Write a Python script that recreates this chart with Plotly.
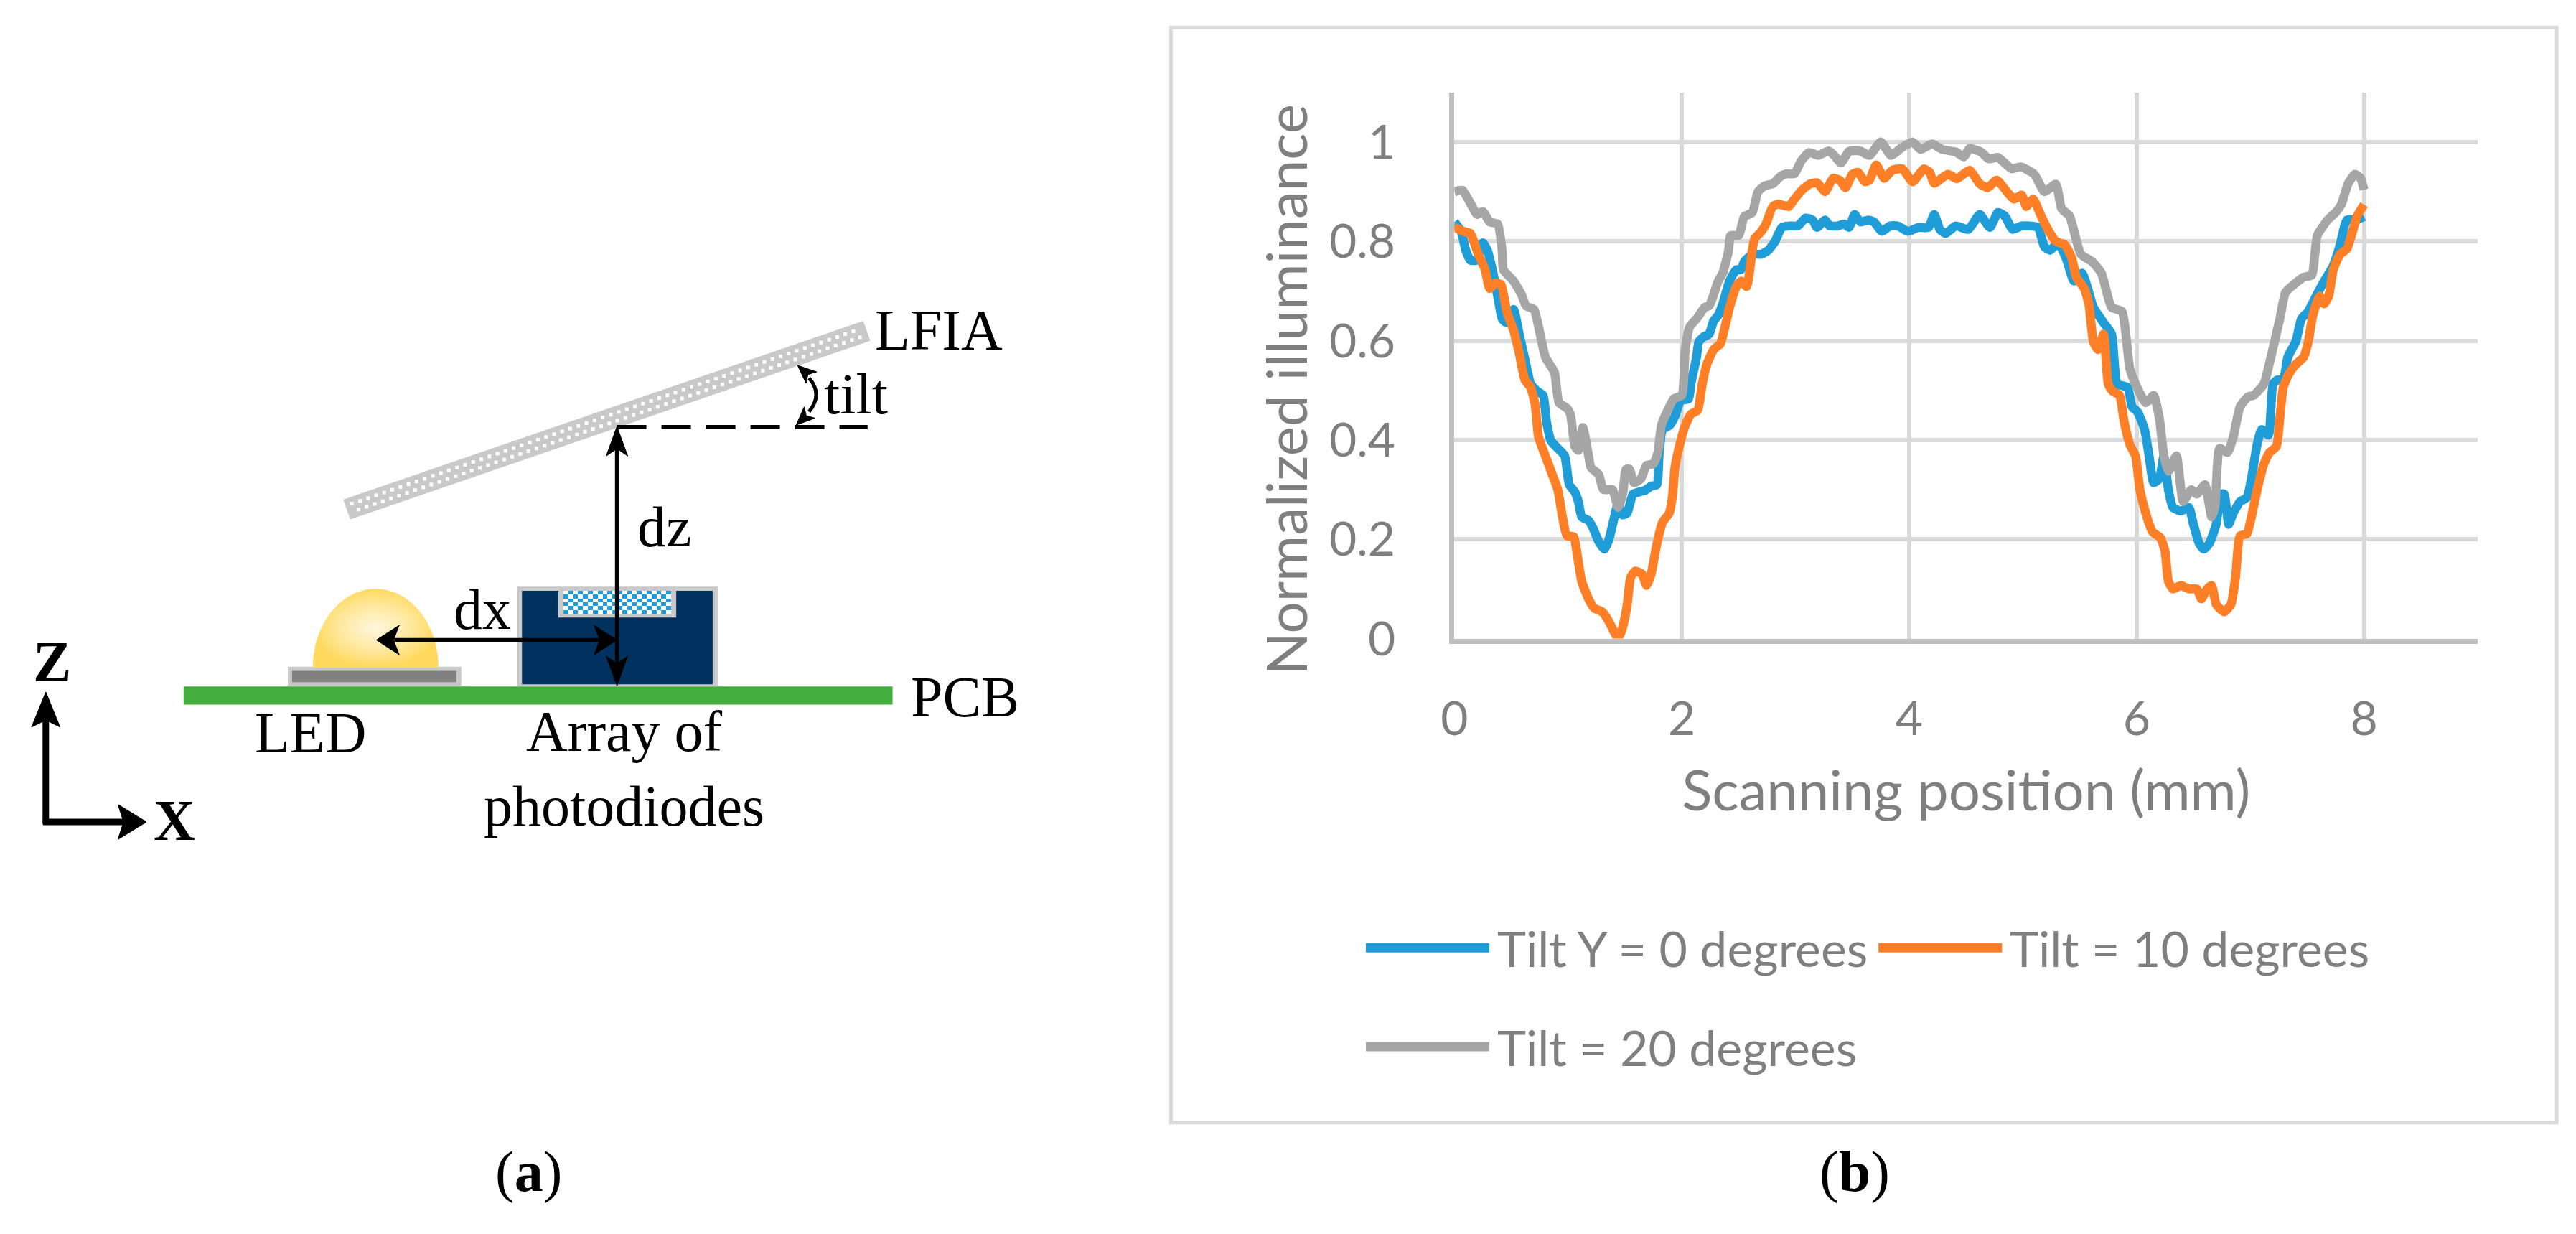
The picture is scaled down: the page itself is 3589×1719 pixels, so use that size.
import numpy as np
import plotly.graph_objects as go

W, H = 3589, 1719

# ---------------- data ----------------
series_names = ["Tilt Y = 0 degrees", "Tilt = 10 degrees", "Tilt = 20 degrees"]
series_colors = ["#1f9dd9", "#ff7f27", "#a6a6a6"]

x_tilt0 = [0, 0.06, 0.10, 0.14, 0.20, 0.25, 0.29, 0.34, 0.38, 0.42, 0.46, 0.52, 0.57, 0.63, 0.67, 0.73,
           0.78, 0.81, 0.85, 0.91, 0.97, 1.01, 1.06, 1.09, 1.12, 1.18, 1.22, 1.27, 1.32, 1.36, 1.40, 1.44,
           1.48, 1.52, 1.57, 1.62, 1.68, 1.73, 1.78, 1.80, 1.83, 1.89, 1.94, 1.99, 2.06, 2.08, 2.13, 2.15,
           2.20, 2.24, 2.28, 2.32, 2.36, 2.42, 2.48, 2.52, 2.55, 2.62, 2.70, 2.76, 2.82, 2.88, 2.95, 3.02,
           3.09, 3.15, 3.19, 3.26, 3.30, 3.37, 3.43, 3.47, 3.52, 3.57, 3.64, 3.69, 3.76, 3.83, 3.90, 3.99,
           4.08, 4.17, 4.22, 4.27, 4.32, 4.41, 4.52, 4.62, 4.71, 4.78, 4.84, 4.91, 4.99, 5.13, 5.19, 5.24,
           5.31, 5.38, 5.45, 5.52, 5.57, 5.62, 5.71, 5.78, 5.83, 5.92, 5.96, 6.01, 6.07, 6.11, 6.15, 6.20,
           6.24, 6.28, 6.32, 6.39, 6.46, 6.50, 6.55, 6.59, 6.64, 6.70, 6.74, 6.77, 6.81, 6.85, 6.91, 6.97,
           7.01, 7.06, 7.10, 7.16, 7.20, 7.24, 7.29, 7.33, 7.40, 7.45, 7.51, 7.58, 7.65, 7.73, 7.79, 7.85,
           7.93, 8.00]
y_tilt0 = [0.839, 0.820, 0.782, 0.762, 0.762, 0.797, 0.782, 0.736, 0.690, 0.644, 0.636, 0.663, 0.613, 0.552,
           0.513, 0.498, 0.490, 0.437, 0.398, 0.383, 0.368, 0.310, 0.295, 0.276, 0.245, 0.238, 0.222, 0.195,
           0.180, 0.200, 0.238, 0.272, 0.249, 0.253, 0.291, 0.295, 0.299, 0.307, 0.310, 0.368, 0.421, 0.429,
           0.448, 0.479, 0.483, 0.513, 0.567, 0.598, 0.609, 0.613, 0.640, 0.651, 0.674, 0.720, 0.743, 0.743,
           0.759, 0.774, 0.774, 0.782, 0.800, 0.828, 0.831, 0.831, 0.847, 0.843, 0.828, 0.843, 0.831, 0.831,
           0.835, 0.828, 0.854, 0.839, 0.843, 0.839, 0.820, 0.831, 0.831, 0.820, 0.828, 0.828, 0.854, 0.824,
           0.816, 0.831, 0.824, 0.854, 0.828, 0.858, 0.851, 0.824, 0.831, 0.828, 0.789, 0.782, 0.797, 0.766,
           0.720, 0.736, 0.705, 0.667, 0.636, 0.613, 0.513, 0.506, 0.467, 0.456, 0.421, 0.368, 0.314, 0.322,
           0.368, 0.299, 0.264, 0.257, 0.264, 0.230, 0.192, 0.180, 0.192, 0.230, 0.291, 0.291, 0.230, 0.253,
           0.276, 0.284, 0.322, 0.391, 0.421, 0.410, 0.513, 0.521, 0.521, 0.567, 0.598, 0.644, 0.659, 0.690,
           0.720, 0.751, 0.793, 0.843, 0.843, 0.850]

x_tilt10 = [0, 0.08, 0.14, 0.21, 0.27, 0.31, 0.36, 0.41, 0.46, 0.52, 0.57, 0.62, 0.67, 0.71, 0.74, 0.80,
            0.85, 0.91, 0.95, 0.99, 1.05, 1.08, 1.12, 1.18, 1.23, 1.30, 1.36, 1.41, 1.44, 1.48, 1.52, 1.55,
            1.59, 1.65, 1.69, 1.73, 1.78, 1.83, 1.89, 1.92, 1.94, 1.99, 2.03, 2.08, 2.14, 2.18, 2.22, 2.28,
            2.34, 2.38, 2.42, 2.48, 2.52, 2.57, 2.62, 2.64, 2.70, 2.74, 2.80, 2.85, 2.94, 2.99, 3.06, 3.13,
            3.19, 3.26, 3.33, 3.39, 3.44, 3.50, 3.55, 3.61, 3.65, 3.71, 3.78, 3.85, 3.94, 4.03, 4.13, 4.18,
            4.22, 4.34, 4.42, 4.53, 4.62, 4.69, 4.77, 4.87, 4.92, 4.99, 5.03, 5.09, 5.16, 5.23, 5.29, 5.37,
            5.43, 5.47, 5.54, 5.58, 5.62, 5.66, 5.71, 5.75, 5.79, 5.85, 5.89, 5.94, 5.99, 6.03, 6.08, 6.14,
            6.21, 6.25, 6.28, 6.32, 6.39, 6.46, 6.53, 6.57, 6.62, 6.66, 6.70, 6.77, 6.83, 6.87, 6.91, 6.97,
            7.01, 7.06, 7.12, 7.17, 7.23, 7.26, 7.29, 7.34, 7.40, 7.47, 7.51, 7.55, 7.61, 7.65, 7.69, 7.73,
            7.79, 7.85, 7.90, 7.94, 8.00]
y_tilt10 = [0.828, 0.820, 0.816, 0.774, 0.743, 0.705, 0.716, 0.713, 0.659, 0.621, 0.575, 0.521, 0.506, 0.471,
            0.406, 0.368, 0.337, 0.299, 0.245, 0.207, 0.205, 0.169, 0.115, 0.080, 0.061, 0.054, 0.034, 0.011,
            0.000, 0.023, 0.069, 0.123, 0.136, 0.130, 0.107, 0.130, 0.190, 0.234, 0.253, 0.291, 0.345, 0.398,
            0.429, 0.452, 0.460, 0.513, 0.552, 0.582, 0.594, 0.628, 0.667, 0.709, 0.720, 0.709, 0.782, 0.805,
            0.820, 0.835, 0.870, 0.875, 0.870, 0.885, 0.904, 0.916, 0.918, 0.900, 0.927, 0.923, 0.908, 0.935,
            0.939, 0.920, 0.923, 0.954, 0.927, 0.943, 0.946, 0.920, 0.946, 0.939, 0.917, 0.935, 0.926, 0.943,
            0.916, 0.908, 0.923, 0.897, 0.885, 0.893, 0.870, 0.885, 0.851, 0.820, 0.800, 0.793, 0.766, 0.728,
            0.705, 0.674, 0.598, 0.582, 0.613, 0.513, 0.498, 0.490, 0.437, 0.391, 0.368, 0.299, 0.253, 0.215,
            0.203, 0.176, 0.115, 0.100, 0.107, 0.100, 0.100, 0.080, 0.100, 0.107, 0.069, 0.054, 0.069, 0.123,
            0.207, 0.211, 0.245, 0.299, 0.352, 0.375, 0.387, 0.444, 0.506, 0.533, 0.552, 0.567, 0.598, 0.651,
            0.690, 0.674, 0.690, 0.743, 0.774, 0.785, 0.820, 0.851, 0.874]

x_tilt20 = [0, 0.07, 0.14, 0.20, 0.25, 0.31, 0.38, 0.42, 0.43, 0.52, 0.59, 0.63, 0.70, 0.74, 0.80, 0.88,
            0.92, 0.99, 1.02, 1.06, 1.09, 1.13, 1.18, 1.20, 1.27, 1.31, 1.39, 1.44, 1.48, 1.51, 1.54, 1.58,
            1.64, 1.69, 1.75, 1.79, 1.82, 1.86, 1.93, 2.00, 2.03, 2.07, 2.14, 2.20, 2.24, 2.27, 2.32, 2.36,
            2.41, 2.43, 2.50, 2.55, 2.62, 2.67, 2.73, 2.80, 2.87, 2.92, 2.99, 3.05, 3.12, 3.20, 3.29, 3.34,
            3.40, 3.47, 3.57, 3.65, 3.75, 3.84, 3.93, 4.03, 4.10, 4.20, 4.29, 4.41, 4.48, 4.53, 4.63, 4.70,
            4.78, 4.90, 4.98, 5.10, 5.19, 5.29, 5.34, 5.41, 5.51, 5.61, 5.69, 5.78, 5.87, 5.94, 5.99, 6.08,
            6.15, 6.20, 6.24, 6.28, 6.35, 6.41, 6.48, 6.53, 6.60, 6.66, 6.69, 6.73, 6.80, 6.85, 6.91, 6.98,
            7.03, 7.12, 7.17, 7.26, 7.31, 7.40, 7.47, 7.54, 7.59, 7.68, 7.75, 7.80, 7.86, 7.92, 7.97, 8.00]
y_tilt20 = [0.900, 0.903, 0.877, 0.854, 0.860, 0.839, 0.835, 0.780, 0.743, 0.720, 0.693, 0.670, 0.663, 0.628,
            0.567, 0.536, 0.475, 0.464, 0.452, 0.387, 0.379, 0.425, 0.368, 0.345, 0.330, 0.300, 0.300, 0.264,
            0.291, 0.341, 0.341, 0.314, 0.322, 0.349, 0.352, 0.375, 0.429, 0.452, 0.483, 0.490, 0.582, 0.628,
            0.647, 0.667, 0.670, 0.686, 0.720, 0.736, 0.780, 0.812, 0.812, 0.850, 0.858, 0.900, 0.912, 0.916,
            0.931, 0.936, 0.936, 0.962, 0.979, 0.973, 0.982, 0.973, 0.958, 0.981, 0.982, 0.973, 1.000, 0.973,
            0.988, 1.000, 0.985, 0.996, 0.985, 0.980, 0.970, 0.987, 0.980, 0.966, 0.969, 0.946, 0.950, 0.935,
            0.900, 0.915, 0.866, 0.851, 0.774, 0.759, 0.736, 0.667, 0.659, 0.544, 0.513, 0.475, 0.490, 0.444,
            0.368, 0.337, 0.368, 0.276, 0.300, 0.291, 0.310, 0.245, 0.268, 0.383, 0.375, 0.406, 0.467, 0.487,
            0.490, 0.513, 0.556, 0.644, 0.697, 0.716, 0.728, 0.732, 0.812, 0.843, 0.858, 0.874, 0.916, 0.935,
            0.927, 0.904]

x_tickvals = [0, 2, 4, 6, 8]
x_ticktext = ["0", "2", "4", "6", "8"]
y_tickvals = [0, 0.2, 0.4, 0.6, 0.8, 1.0]
y_ticktext = ["0", "0.2", "0.4", "0.6", "0.8", "1"]
x_title = "Scanning position (mm)"
y_title = "Normalized illuminance"

series_x = [x_tilt0, x_tilt10, x_tilt20]
series_y = [y_tilt0, y_tilt10, y_tilt20]

# ---------------- geometry of panel (b) in page pixels ----------------
PX0, PX9 = 2010.0, 3443.25      # x = 0 and x = 9
PYT, PYB = 123.3, 901.0         # y = 1.1 and y = 0

SANS = "Lato"
SERIF = "Liberation Serif"
GREY_TXT = "#7f7f7f"

fig = go.Figure()

# ---------------- chart traces ----------------
for name, col, xs, ys in zip(series_names, series_colors, series_x, series_y):
    fig.add_trace(go.Scatter(x=xs, y=ys, name=name, mode="lines",
                             line=dict(color=col, width=12.5, shape="spline", smoothing=0.5),
                             showlegend=False, xaxis="x", yaxis="y"))

# ---------------- diagram (panel a) on a pixel canvas x2/y2 ----------------
shapes = []
annotations = []


def rect(x0, y0, x1, y1, fill, line=None, lw=0, layer="below"):
    shapes.append(dict(type="rect", xref="x2", yref="y2", x0=x0, y0=y0, x1=x1, y1=y1,
                       fillcolor=fill, line=dict(color=line or fill, width=lw), layer=layer))


def seg(x0, y0, x1, y1, width, color="black", dash="solid", layer="above"):
    shapes.append(dict(type="line", xref="x2", yref="y2", x0=x0, y0=y0, x1=x1, y1=y1,
                       line=dict(color=color, width=width, dash=dash), layer=layer))


def head(tx, ty, ux, uy, length, half, notch=0.25):
    n = np.hypot(ux, uy)
    ux, uy = ux / n, uy / n
    px, py = -uy, ux
    bx, by = tx - length * ux, ty - length * uy
    nx, ny = bx + notch * length * ux, by + notch * length * uy
    path = (f"M{tx},{ty} L{bx + half * px},{by + half * py} L{nx},{ny} "
            f"L{bx - half * px},{by - half * py} Z")
    shapes.append(dict(type="path", xref="x2", yref="y2", path=path,
                       fillcolor="black", line=dict(color="black", width=1), layer="above"))


def label(x, y, text, size=80, xanchor="left", family=SERIF, color="black", angle=0):
    annotations.append(dict(xref="x2", yref="y2", x=x, y=y, text=text, showarrow=False,
                            xanchor=xanchor, yanchor="middle", textangle=angle,
                            font=dict(family=family, size=size, color=color)))


# PCB
rect(230, 969, 1223, 995, "#43ae3b")
# LED base
rect(376, 941, 619, 968, "#c8c8c8")
rect(382, 947, 612, 963, "#808080")
# photodiode package
rect(697, 827, 978, 968, "#c8c8c8")
rect(704, 833, 971, 966, "#00315f")
rect(755, 833, 920, 871, "#c8c8c8")

# LFIA strip (rotated rectangle)
Lc = np.array([459.0, 717.0])
Rc = np.array([1186.5, 463.0])
d = (Rc - Lc) / np.linalg.norm(Rc - Lc)
nrm = np.array([-d[1], d[0]])
if nrm[1] < 0:
    nrm = -nrm
half_t = 14.5
c1, c2, c3, c4 = Lc - half_t * nrm, Rc - half_t * nrm, Rc + half_t * nrm, Lc + half_t * nrm
shapes.append(dict(type="path", xref="x2", yref="y2",
                   path=f"M{c1[0]},{c1[1]} L{c2[0]},{c2[1]} L{c3[0]},{c3[1]} L{c4[0]},{c4[1]} Z",
                   fillcolor="#c9c9c9", line=dict(color="#c9c9c9", width=1), layer="below"))
strip_len = np.linalg.norm(Rc - Lc)
dots_x, dots_y = [], []
for row, off in enumerate([-5.5, 5.5]):
    s = 9 + (6 if row else 0)
    while s < strip_len - 6:
        p = Lc + s * d + off * nrm
        dots_x.append(p[0])
        dots_y.append(p[1])
        s += 12
fig.add_trace(go.Scatter(x=dots_x, y=dots_y, mode="markers", xaxis="x2", yaxis="y2",
                         marker=dict(symbol="square", size=5, color="white", line=dict(width=0)),
                         showlegend=False, hoverinfo="skip"))

# LED dome with radial gradient
t = np.linspace(0, np.pi, 80)
dome_x = 499 - 88 * np.cos(t)
dome_y = 942 - 112 * np.sin(t)
fig.add_trace(go.Scatter(x=dome_x, y=dome_y, mode="lines", fill="toself", xaxis="x2", yaxis="y2",
                         line=dict(width=0, color="#ffd966"),
                         fillgradient=dict(type="radial",
                                           colorscale=[[0, "#fff7df"], [0.6, "#ffe79a"], [1, "#ffd95e"]]),
                         showlegend=False, hoverinfo="skip"))

# checker pattern on the photodiode array
cx = np.linspace(762, 913, 23)
cy = np.linspace(833, 866, 7)
cz = [[(i + j) % 2 for j in range(22)] for i in range(6)]
fig.add_trace(go.Heatmap(x=cx, y=cy, z=cz, xaxis="x2", yaxis="y2", showscale=False,
                         colorscale=[[0, "white"], [1, "#1f9bd7"]], hoverinfo="skip"))

# dz arrow
seg(837, 630, 837, 940, 5.5)
head(837, 599, 0, -1, 42, 15)
head(837, 968, 0, 1, 42, 15)
# dx arrow
seg(525, 903, 815, 903, 5.5)
head(500, 903, -1, 0, 32, 21)
head(837, 903, 1, 0, 32, 21)
# dashed reference line
seg(837, 600, 1188, 600, 6, dash="41px,21px")
# tilt arc with arrowheads
shapes.append(dict(type="path", xref="x2", yref="y2", path="M1106,530 Q1126,553 1106,578",
                   line=dict(color="black", width=5), layer="above"))
head(1090, 512, -1.0, -0.9, 26, 11)
head(1088, 597, -1.0, 0.95, 26, 11)
# coordinate axes
seg(37, 1165, 37, 1015, 9)
seg(33, 1162, 148, 1162, 9)
head(37, 977, 0, -1, 50, 20, notch=0.2)
head(178, 1162, 1, 0, 40, 25, notch=0.2)

# diagram labels
label(1196, 462, "LFIA")
label(1125, 553, "tilt")
label(864, 742, "dz")
label(606, 860, "dx")
label(1247, 984, "PCB")
label(328, 1035, "LED")
label(847, 1033, "Array of", xanchor="center")
label(847, 1140, "photodiodes", xanchor="center")
label(17, 934, "<b>Z</b>")
label(217, 1160, "<b>X</b>", xanchor="center")
label(713, 1660, "(<b>a</b>)", xanchor="center")
label(2571, 1660, "(<b>b</b>)", xanchor="center")

# y-axis title of panel (b), placed where the reference has it
label(1774, 547, y_title, size=78, xanchor="center", family=SANS, color=GREY_TXT, angle=-90)

# panel (b) frame
shapes.append(dict(type="rect", xref="x2", yref="y2", x0=1613, y0=31, x1=3554, y1=1590,
                   line=dict(color="#d9d9d9", width=5), fillcolor="rgba(0,0,0,0)", layer="below"))

# legend of panel (b)
legend_rows = [(1886, 2059, 2068, 1341), (2604, 2777, 2786, 1341), (1886, 2059, 2068, 1482)]
for (lx0, lx1, tx, ly), name, col in zip(legend_rows, series_names, series_colors):
    seg(lx0, ly, lx1, ly, 13, color=col)
    label(tx, ly, name, size=68, family=SANS, color=GREY_TXT)

fig.update_layout(
    width=W, height=H, autosize=False,
    margin=dict(l=0, r=0, t=0, b=0, pad=0),
    paper_bgcolor="white", plot_bgcolor="rgba(0,0,0,0)",
    showlegend=False,
    xaxis=dict(domain=[PX0 / W, PX9 / W], range=[0, 9], anchor="y",
               tickvals=x_tickvals, ticktext=x_ticktext, ticks="",
               showgrid=True, gridcolor="#d9d9d9", gridwidth=6,
               showline=True, linecolor="#bfbfbf", linewidth=7, zeroline=False,
               tickfont=dict(family=SANS, size=66, color=GREY_TXT), ticklabelstandoff=48,
               title=dict(text=x_title, font=dict(family=SANS, size=78, color=GREY_TXT), standoff=40)),
    yaxis=dict(domain=[1 - PYB / H, 1 - PYT / H], range=[0, 1.1], anchor="x",
               tickvals=y_tickvals, ticktext=y_ticktext, ticks="",
               showgrid=True, gridcolor="#d9d9d9", gridwidth=6,
               showline=True, linecolor="#bfbfbf", linewidth=7, zeroline=False,
               tickfont=dict(family=SANS, size=66, color=GREY_TXT), ticklabelstandoff=62),
    xaxis2=dict(domain=[0, 1], range=[0, W], visible=False, anchor="y2", fixedrange=True),
    yaxis2=dict(domain=[0, 1], range=[H, 0], visible=False, anchor="x2", fixedrange=True),
    shapes=shapes,
    annotations=annotations,
)

fig.write_html("out.html")
